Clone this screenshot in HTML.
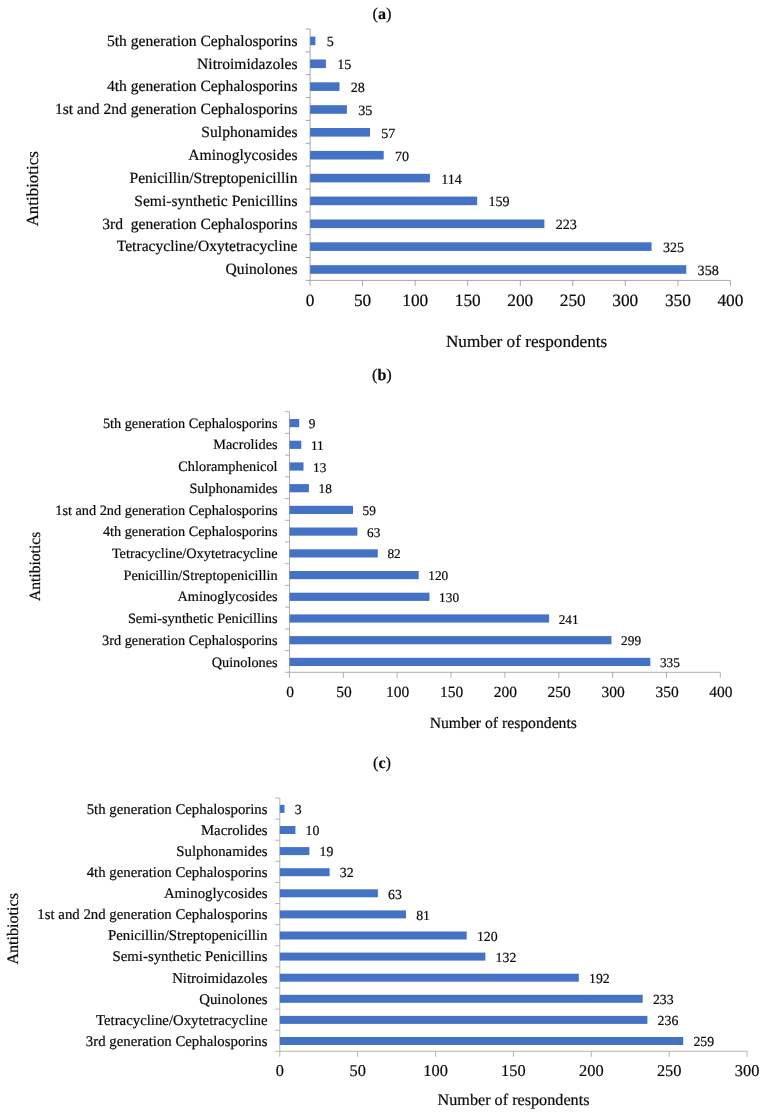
<!DOCTYPE html>
<html lang="en"><head><meta charset="utf-8"><title>Antibiotics charts</title>
<style>
html,body{margin:0;padding:0;background:#fff;}
body{width:766px;height:1115px;overflow:hidden;}
svg{display:block;font-family:"Liberation Serif", "Times New Roman", serif;}
text{text-rendering:geometricPrecision;fill:#0a0a0a;stroke:#0a0a0a;stroke-width:0.2px;}
.ax{stroke:#a6a6a6;fill:none;}
.bar{fill:#4472c4;}
</style></head><body>
<svg width="766" height="1115" viewBox="0 0 766 1115">
<rect width="766" height="1115" fill="#fff"/>
<g id="chart-a">
<text x="381.9" y="19.1" text-anchor="middle" font-size="16.5">(<tspan font-weight="bold" font-size="16">a</tspan>)</text>
<path class="ax" stroke-width="1" d="M310.1 29.0V280.4H730.4M310.1 29.0h-4.5M310.1 51.9h-4.5M310.1 74.7h-4.5M310.1 97.6h-4.5M310.1 120.4h-4.5M310.1 143.3h-4.5M310.1 166.1h-4.5M310.1 189.0h-4.5M310.1 211.8h-4.5M310.1 234.7h-4.5M310.1 257.5h-4.5M310.1 280.4h-4.5M310.1 280.4v5.5M362.6 280.4v5.5M415.2 280.4v5.5M467.7 280.4v5.5M520.3 280.4v5.5M572.8 280.4v5.5M625.3 280.4v5.5M677.9 280.4v5.5M730.4 280.4v5.5"/>
<rect class="bar" x="310.1" y="36.6" width="5.3" height="8.6"/><text x="297.5" y="45.6" text-anchor="end" font-size="15.6" xml:space="preserve">5th generation Cephalosporins</text><text x="326.7" y="46.4" font-size="14.1">5</text>
<rect class="bar" x="310.1" y="59.5" width="15.8" height="8.6"/><text x="297.5" y="68.5" text-anchor="end" font-size="15.6" xml:space="preserve">Nitroimidazoles</text><text x="337.2" y="69.3" font-size="14.1">15</text>
<rect class="bar" x="310.1" y="82.3" width="29.4" height="8.6"/><text x="297.5" y="91.3" text-anchor="end" font-size="15.6" xml:space="preserve">4th generation Cephalosporins</text><text x="350.8" y="92.1" font-size="14.1">28</text>
<rect class="bar" x="310.1" y="105.2" width="36.8" height="8.6"/><text x="297.5" y="114.2" text-anchor="end" font-size="15.6" xml:space="preserve">1st and 2nd generation Cephalosporins</text><text x="358.2" y="115.0" font-size="14.1">35</text>
<rect class="bar" x="310.1" y="128.0" width="59.9" height="8.6"/><text x="297.5" y="137.0" text-anchor="end" font-size="15.6" xml:space="preserve">Sulphonamides</text><text x="381.3" y="137.8" font-size="14.1">57</text>
<rect class="bar" x="310.1" y="150.9" width="73.6" height="8.6"/><text x="297.5" y="159.9" text-anchor="end" font-size="15.6" xml:space="preserve">Aminoglycosides</text><text x="395.0" y="160.7" font-size="14.1">70</text>
<rect class="bar" x="310.1" y="173.8" width="119.8" height="8.6"/><text x="297.5" y="182.8" text-anchor="end" font-size="15.6" xml:space="preserve">Penicillin/Streptopenicillin</text><text x="441.2" y="183.6" font-size="14.1">114</text>
<rect class="bar" x="310.1" y="196.6" width="167.1" height="8.6"/><text x="297.5" y="205.6" text-anchor="end" font-size="15.6" xml:space="preserve">Semi-synthetic Penicillins</text><text x="488.5" y="206.4" font-size="14.1">159</text>
<rect class="bar" x="310.1" y="219.5" width="234.3" height="8.6"/><text x="297.5" y="228.5" text-anchor="end" font-size="15.6" xml:space="preserve">3rd  generation Cephalosporins</text><text x="555.7" y="229.3" font-size="14.1">223</text>
<rect class="bar" x="310.1" y="242.3" width="341.5" height="8.6"/><text x="297.5" y="251.3" text-anchor="end" font-size="15.6" xml:space="preserve">Tetracycline/Oxytetracycline</text><text x="662.9" y="252.1" font-size="14.1">325</text>
<rect class="bar" x="310.1" y="265.2" width="376.2" height="8.6"/><text x="297.5" y="274.2" text-anchor="end" font-size="15.6" xml:space="preserve">Quinolones</text><text x="697.6" y="275.0" font-size="14.1">358</text>
<text x="310.1" y="306.3" text-anchor="middle" font-size="17.3">0</text><text x="362.6" y="306.3" text-anchor="middle" font-size="17.3">50</text><text x="415.2" y="306.3" text-anchor="middle" font-size="17.3">100</text><text x="467.7" y="306.3" text-anchor="middle" font-size="17.3">150</text><text x="520.3" y="306.3" text-anchor="middle" font-size="17.3">200</text><text x="572.8" y="306.3" text-anchor="middle" font-size="17.3">250</text><text x="625.3" y="306.3" text-anchor="middle" font-size="17.3">300</text><text x="677.9" y="306.3" text-anchor="middle" font-size="17.3">350</text><text x="730.4" y="306.3" text-anchor="middle" font-size="17.3">400</text>
<text x="526.6" y="346.9" text-anchor="middle" font-size="17.2">Number of respondents</text>
<text transform="translate(38.0 188.8) rotate(-90)" text-anchor="middle" font-size="16.9">Antibiotics</text>
</g>
<g id="chart-b">
<text x="381.9" y="380.0" text-anchor="middle" font-size="16.5">(<tspan font-weight="bold" font-size="16">b</tspan>)</text>
<path class="ax" stroke-width="0.9" d="M289.5 411.7V672.3H720.3M289.5 411.7h-4.5M289.5 433.4h-4.5M289.5 455.1h-4.5M289.5 476.8h-4.5M289.5 498.6h-4.5M289.5 520.3h-4.5M289.5 542.0h-4.5M289.5 563.7h-4.5M289.5 585.4h-4.5M289.5 607.1h-4.5M289.5 628.9h-4.5M289.5 650.6h-4.5M289.5 672.3h-4.5M289.5 672.3v5.5M343.4 672.3v5.5M397.2 672.3v5.5M451.0 672.3v5.5M504.9 672.3v5.5M558.8 672.3v5.5M612.6 672.3v5.5M666.5 672.3v5.5M720.3 672.3v5.5"/>
<rect class="bar" x="289.5" y="419.0" width="9.7" height="8.2"/><text x="277.6" y="427.7" text-anchor="end" font-size="14.3" xml:space="preserve">5th generation Cephalosporins</text><text x="308.8" y="428.1" font-size="13.3">9</text>
<rect class="bar" x="289.5" y="440.7" width="11.8" height="8.2"/><text x="277.6" y="449.4" text-anchor="end" font-size="14.3" xml:space="preserve">Macrolides</text><text x="310.9" y="449.8" font-size="13.3">11</text>
<rect class="bar" x="289.5" y="462.4" width="14.0" height="8.2"/><text x="277.6" y="471.1" text-anchor="end" font-size="14.3" xml:space="preserve">Chloramphenicol</text><text x="313.1" y="471.5" font-size="13.3">13</text>
<rect class="bar" x="289.5" y="484.1" width="19.4" height="8.2"/><text x="277.6" y="492.8" text-anchor="end" font-size="14.3" xml:space="preserve">Sulphonamides</text><text x="318.5" y="493.2" font-size="13.3">18</text>
<rect class="bar" x="289.5" y="505.8" width="63.5" height="8.2"/><text x="277.6" y="514.5" text-anchor="end" font-size="14.3" xml:space="preserve">1st and 2nd generation Cephalosporins</text><text x="362.6" y="514.9" font-size="13.3">59</text>
<rect class="bar" x="289.5" y="527.5" width="67.9" height="8.2"/><text x="277.6" y="536.2" text-anchor="end" font-size="14.3" xml:space="preserve">4th generation Cephalosporins</text><text x="367.0" y="536.6" font-size="13.3">63</text>
<rect class="bar" x="289.5" y="549.3" width="88.3" height="8.2"/><text x="277.6" y="558.0" text-anchor="end" font-size="14.3" xml:space="preserve">Tetracycline/Oxytetracycline</text><text x="387.4" y="558.4" font-size="13.3">82</text>
<rect class="bar" x="289.5" y="571.0" width="129.2" height="8.2"/><text x="277.6" y="579.7" text-anchor="end" font-size="14.3" xml:space="preserve">Penicillin/Streptopenicillin</text><text x="428.3" y="580.1" font-size="13.3">120</text>
<rect class="bar" x="289.5" y="592.7" width="140.0" height="8.2"/><text x="277.6" y="601.4" text-anchor="end" font-size="14.3" xml:space="preserve">Aminoglycosides</text><text x="439.1" y="601.8" font-size="13.3">130</text>
<rect class="bar" x="289.5" y="614.4" width="259.6" height="8.2"/><text x="277.6" y="623.1" text-anchor="end" font-size="14.3" xml:space="preserve">Semi-synthetic Penicillins</text><text x="558.7" y="623.5" font-size="13.3">241</text>
<rect class="bar" x="289.5" y="636.1" width="322.0" height="8.2"/><text x="277.6" y="644.8" text-anchor="end" font-size="14.3" xml:space="preserve">3rd generation Cephalosporins</text><text x="621.1" y="645.2" font-size="13.3">299</text>
<rect class="bar" x="289.5" y="657.8" width="360.8" height="8.2"/><text x="277.6" y="666.5" text-anchor="end" font-size="14.3" xml:space="preserve">Quinolones</text><text x="659.9" y="666.9" font-size="13.3">335</text>
<text x="290.0" y="697.0" text-anchor="middle" font-size="15.5">0</text><text x="343.9" y="697.0" text-anchor="middle" font-size="15.5">50</text><text x="397.7" y="697.0" text-anchor="middle" font-size="15.5">100</text><text x="451.5" y="697.0" text-anchor="middle" font-size="15.5">150</text><text x="505.4" y="697.0" text-anchor="middle" font-size="15.5">200</text><text x="559.2" y="697.0" text-anchor="middle" font-size="15.5">250</text><text x="613.1" y="697.0" text-anchor="middle" font-size="15.5">300</text><text x="667.0" y="697.0" text-anchor="middle" font-size="15.5">350</text><text x="720.8" y="697.0" text-anchor="middle" font-size="15.5">400</text>
<text x="503.3" y="727.7" text-anchor="middle" font-size="15.7">Number of respondents</text>
<text transform="translate(39.9 566.4) rotate(-90)" text-anchor="middle" font-size="15.6">Antibiotics</text>
</g>
<g id="chart-c">
<text x="382.0" y="767.9" text-anchor="middle" font-size="16.5">(<tspan font-weight="bold" font-size="16">c</tspan>)</text>
<path class="ax" stroke-width="0.85" d="M279.8 798.0V1051.3H747.1M279.8 798.0h-4.5M279.8 819.1h-4.5M279.8 840.2h-4.5M279.8 861.3h-4.5M279.8 882.4h-4.5M279.8 903.5h-4.5M279.8 924.6h-4.5M279.8 945.8h-4.5M279.8 966.9h-4.5M279.8 988.0h-4.5M279.8 1009.1h-4.5M279.8 1030.2h-4.5M279.8 1051.3h-4.5M279.8 1051.3v5.5M357.7 1051.3v5.5M435.6 1051.3v5.5M513.4 1051.3v5.5M591.3 1051.3v5.5M669.2 1051.3v5.5M747.1 1051.3v5.5"/>
<rect class="bar" x="279.8" y="804.9" width="4.7" height="8.0"/><text x="267.5" y="813.7" text-anchor="end" font-size="14.8" xml:space="preserve">5th generation Cephalosporins</text><text x="294.7" y="814.1" font-size="13.8">3</text>
<rect class="bar" x="279.8" y="826.0" width="15.6" height="8.0"/><text x="267.5" y="834.8" text-anchor="end" font-size="14.8" xml:space="preserve">Macrolides</text><text x="305.6" y="835.2" font-size="13.8">10</text>
<rect class="bar" x="279.8" y="847.1" width="29.6" height="8.0"/><text x="267.5" y="855.9" text-anchor="end" font-size="14.8" xml:space="preserve">Sulphonamides</text><text x="319.6" y="856.3" font-size="13.8">19</text>
<rect class="bar" x="279.8" y="868.2" width="49.8" height="8.0"/><text x="267.5" y="877.0" text-anchor="end" font-size="14.8" xml:space="preserve">4th generation Cephalosporins</text><text x="339.8" y="877.4" font-size="13.8">32</text>
<rect class="bar" x="279.8" y="889.3" width="98.1" height="8.0"/><text x="267.5" y="898.1" text-anchor="end" font-size="14.8" xml:space="preserve">Aminoglycosides</text><text x="388.1" y="898.5" font-size="13.8">63</text>
<rect class="bar" x="279.8" y="910.4" width="126.2" height="8.0"/><text x="267.5" y="919.2" text-anchor="end" font-size="14.8" xml:space="preserve">1st and 2nd generation Cephalosporins</text><text x="416.2" y="919.6" font-size="13.8">81</text>
<rect class="bar" x="279.8" y="931.5" width="186.9" height="8.0"/><text x="267.5" y="940.3" text-anchor="end" font-size="14.8" xml:space="preserve">Penicillin/Streptopenicillin</text><text x="476.9" y="940.7" font-size="13.8">120</text>
<rect class="bar" x="279.8" y="952.6" width="205.6" height="8.0"/><text x="267.5" y="961.4" text-anchor="end" font-size="14.8" xml:space="preserve">Semi-synthetic Penicillins</text><text x="495.6" y="961.8" font-size="13.8">132</text>
<rect class="bar" x="279.8" y="973.7" width="299.0" height="8.0"/><text x="267.5" y="982.5" text-anchor="end" font-size="14.8" xml:space="preserve">Nitroimidazoles</text><text x="589.0" y="982.9" font-size="13.8">192</text>
<rect class="bar" x="279.8" y="994.8" width="362.9" height="8.0"/><text x="267.5" y="1003.6" text-anchor="end" font-size="14.8" xml:space="preserve">Quinolones</text><text x="652.9" y="1004.0" font-size="13.8">233</text>
<rect class="bar" x="279.8" y="1015.9" width="367.6" height="8.0"/><text x="267.5" y="1024.7" text-anchor="end" font-size="14.8" xml:space="preserve">Tetracycline/Oxytetracycline</text><text x="657.6" y="1025.1" font-size="13.8">236</text>
<rect class="bar" x="279.8" y="1037.0" width="403.4" height="8.0"/><text x="267.5" y="1045.8" text-anchor="end" font-size="14.8" xml:space="preserve">3rd generation Cephalosporins</text><text x="693.4" y="1046.2" font-size="13.8">259</text>
<text x="279.8" y="1075.6" text-anchor="middle" font-size="16.4">0</text><text x="357.7" y="1075.6" text-anchor="middle" font-size="16.4">50</text><text x="435.6" y="1075.6" text-anchor="middle" font-size="16.4">100</text><text x="513.4" y="1075.6" text-anchor="middle" font-size="16.4">150</text><text x="591.3" y="1075.6" text-anchor="middle" font-size="16.4">200</text><text x="669.2" y="1075.6" text-anchor="middle" font-size="16.4">250</text><text x="747.1" y="1075.6" text-anchor="middle" font-size="16.4">300</text>
<text x="513.5" y="1104.9" text-anchor="middle" font-size="16.2">Number of respondents</text>
<text transform="translate(18.3 928.8) rotate(-90)" text-anchor="middle" font-size="16.1">Antibiotics</text>
</g>
</svg>
</body></html>
